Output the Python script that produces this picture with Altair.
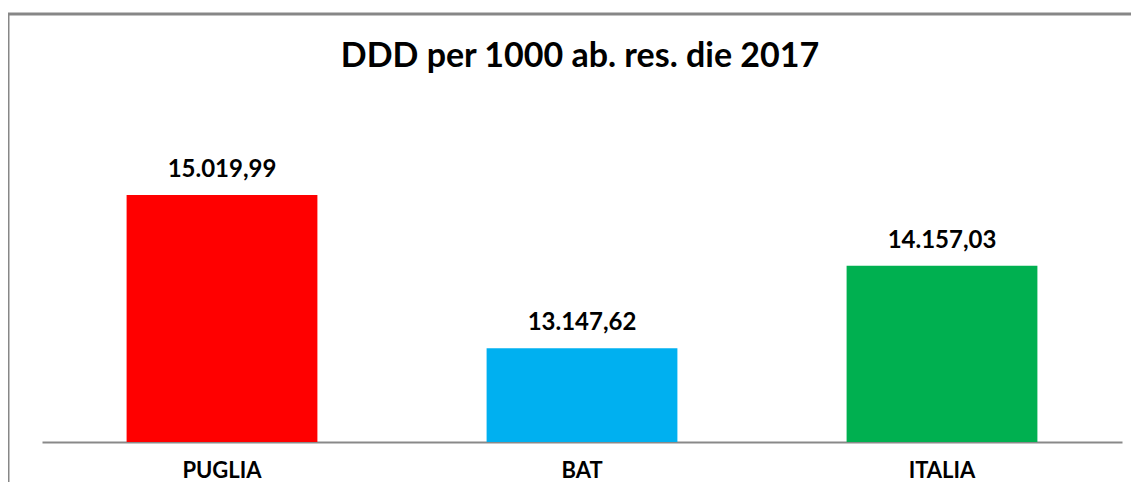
import altair as alt
import pandas as pd

categories = ["PUGLIA", "BAT", "ITALIA"]
values = [15019.99, 13147.62, 14157.03]
colors = ["#FF0000", "#00B0F0", "#00B050"]
title_text = "DDD per 1000 ab. res. die 2017"

def it_fmt(v):
    s = f"{v:,.2f}"
    return s.replace(",", "X").replace(".", ",").replace("X", ".")

df = pd.DataFrame({
    "cat": categories,
    "val": values,
    "label": [it_fmt(v) for v in values],
})

W, H = 1080, 327
FONT = "Lato"

x = alt.X("cat:N", sort=categories, title=None,
          scale=alt.Scale(paddingInner=0.47, paddingOuter=0.235),
          axis=alt.Axis(labelAngle=0, labelFont=FONT, labelFontSize=22, labelFontWeight="bold",
                        labelColor="#000000", labelBaseline="alphabetic", labelPadding=35,
                        ticks=False, domainColor="#898989", domainWidth=2, grid=False))
y = alt.Y("val:Q", title=None, scale=alt.Scale(domain=[12000, 16000], nice=False, zero=False),
          axis=None)

bars = alt.Chart(df).mark_bar(clip=True).encode(
    x=x, y=y,
    color=alt.Color("cat:N", scale=alt.Scale(domain=categories, range=colors), legend=None),
)

text = alt.Chart(df).mark_text(font=FONT, fontSize=24, fontWeight="bold", baseline="alphabetic",
                               dy=-18, color="#000000").encode(
    x=alt.X("cat:N", sort=categories), y=alt.Y("val:Q"), text="label:N")

frame_df = pd.DataFrame({"k": [1]})
left_line = alt.Chart(frame_df).mark_rule(color="#878787", strokeWidth=3).encode(
    x=alt.value(-34), y=alt.value(-101), y2=alt.value(H + 45))
top_line = alt.Chart(frame_df).mark_rule(color="#878787", strokeWidth=3).encode(
    x=alt.value(-34), x2=alt.value(W + 12), y=alt.value(-101))

title = alt.Chart(pd.DataFrame({"t": [title_text]})).mark_text(
    font=FONT, fontSize=34, fontWeight="bold", color="#000000",
    baseline="alphabetic", align="center").encode(
    x=alt.value(W / 2 - 2), y=alt.value(-48), text="t:N")

chart = alt.layer(bars, text, left_line, top_line, title).properties(
    width=W, height=H,
    autosize=alt.AutoSizeParams(type="none"),
    padding={"left": 34, "top": 107, "right": 9, "bottom": 40},
).configure_view(stroke=None)

chart.save("out.html", embed_options={"renderer": "svg", "actions": False})
